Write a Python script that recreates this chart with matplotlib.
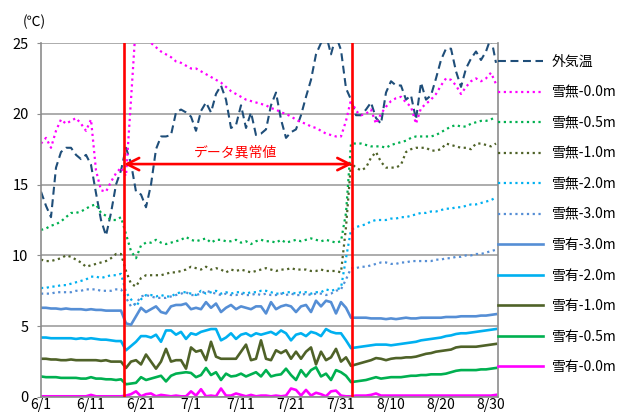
import matplotlib
matplotlib.use("Agg")
import matplotlib.pyplot as plt
import numpy as np

plt.rcParams['font.family'] = ['Noto Sans CJK JP', 'DejaVu Sans']

# Daily observations from 6/1 to 8/31 (day index 0..91)
tick_days = [0, 10, 20, 30, 40, 50, 60, 70, 80, 90]
tick_labels = ["6/1", "6/11", "6/21", "7/1", "7/11", "7/21", "7/31", "8/10", "8/20", "8/30"]

air_temp = [14.5, 13.5, 12.7, 16.2, 17.3, 17.6, 17.6, 17.1, 16.8, 17.1,
            16.4, 14.4, 12.5, 11.4, 13.0, 15.0, 16.0, 17.6, 16.5, 14.5,
            14.3, 13.4, 15.0, 17.5, 18.4, 18.4, 18.5, 20.1, 20.3, 20.1,
            19.8, 18.8, 20.2, 20.8, 20.1, 21.4, 22.0, 21.0, 19.0, 19.2,
            20.6, 19.0, 20.1, 18.5, 18.6, 18.9, 20.6, 21.5, 19.6, 18.3,
            18.7, 18.9, 19.9, 21.2, 22.4, 24.2, 25.0, 25.6, 24.2, 25.5,
            24.5, 21.8, 21.0, 19.9, 19.9, 20.3, 20.8, 19.7, 19.3, 21.5,
            22.3, 22.0, 22.0, 21.0, 21.3, 19.6, 22.2, 21.0, 21.3, 22.5,
            23.8, 24.6, 24.6, 23.0, 21.9, 23.2, 23.9, 24.4, 23.8, 24.4,
            25.4, 23.6]

no_snow_00 = [17.9, 18.3, 17.6, 18.8, 19.6, 19.3, 19.5, 19.7, 19.3, 18.8,
              19.6, 16.0, 14.6, 14.5, 15.2, 15.8, 16.2, 15.6, 21.0, 26.5,
              27.0, 26.0, 25.0, 24.7, 24.4, 24.2, 24.0, 23.7, 23.6, 23.4,
              23.2, 23.2, 23.0, 22.8, 22.6, 22.4, 22.2, 21.9, 21.6, 21.4,
              21.2, 21.0, 20.9, 20.8, 20.7, 20.6, 20.4, 20.3, 20.1, 20.0,
              19.8, 19.6, 19.4, 19.3, 19.1, 19.0, 18.8, 18.6, 18.5, 18.4,
              18.4, 19.5, 21.0, 20.2, 19.9, 20.0, 20.3, 19.3, 20.0, 20.5,
              20.9, 21.1, 21.2, 20.8, 20.5, 19.3, 20.4, 20.7, 21.0, 21.4,
              22.0, 22.5, 22.4, 22.0, 21.4, 21.9, 22.3, 22.5, 22.3, 22.5,
              22.9, 22.1]

no_snow_05 = [11.8, 11.9, 12.1, 12.2, 12.4, 12.7, 13.0, 13.0, 13.1, 13.3,
              13.5, 13.6, 13.0, 12.8, 12.5, 12.5, 12.7, 11.5, 10.3, 9.8,
              10.7, 10.9, 10.9, 11.1, 10.9, 10.8, 10.9, 11.0, 11.1, 11.3,
              11.1, 11.0, 11.1, 11.2, 10.9, 11.1, 11.1, 11.0, 11.0, 11.1,
              10.9, 11.0, 10.8, 11.0, 11.1, 11.0, 11.0, 10.9, 11.1, 10.9,
              11.0, 11.1, 11.0, 11.1, 11.2, 11.1, 11.0, 11.1, 11.0, 10.9,
              11.0, 13.0, 17.9, 17.9, 17.9, 17.8, 17.7, 17.7, 17.7, 17.6,
              17.8, 17.9, 18.0, 18.1, 18.3, 18.4, 18.4, 18.4, 18.4, 18.5,
              18.7, 18.9, 19.1, 19.2, 19.1, 19.1, 19.3, 19.4, 19.5, 19.5,
              19.6, 19.8]

no_snow_10 = [9.7, 9.6, 9.6, 9.7, 9.8, 10.0, 9.9, 9.7, 9.5, 9.2,
              9.3, 9.4, 9.5, 9.6, 9.8, 10.1, 10.1, 8.9, 8.0, 7.8,
              8.4, 8.6, 8.6, 8.6, 8.6, 8.7, 8.8, 8.8, 8.9, 9.0,
              9.2, 9.1, 9.0, 9.2, 9.0, 9.1, 9.0, 8.8, 9.0, 8.9,
              9.0, 8.9, 8.8, 8.9, 9.0, 9.1, 9.0, 8.9, 9.0, 9.0,
              9.1, 9.0, 9.0, 9.0, 8.9, 8.9, 9.0, 8.9, 8.9, 8.9,
              8.8, 12.0, 16.5, 16.2, 16.0, 16.2, 16.9, 17.3, 16.6, 16.2,
              16.2, 16.2, 16.4, 17.3, 17.5, 17.6, 17.6, 17.6, 17.4, 17.4,
              17.5, 17.9, 17.8, 17.7, 17.6, 17.6, 17.5, 17.9, 17.9, 17.8,
              17.7, 17.9]

no_snow_20 = [7.7, 7.7, 7.8, 7.8, 7.9, 7.9, 8.0, 8.1, 8.2, 8.3,
              8.5, 8.5, 8.4, 8.5, 8.6, 8.6, 8.7, 7.4, 6.9, 6.4,
              6.9, 7.2, 7.2, 7.1, 7.2, 7.1, 7.1, 7.3, 7.4, 7.4,
              7.3, 7.2, 7.5, 7.3, 7.4, 7.5, 7.3, 7.4, 7.3, 7.4,
              7.4, 7.3, 7.4, 7.4, 7.5, 7.5, 7.4, 7.3, 7.3, 7.4,
              7.4, 7.3, 7.4, 7.4, 7.3, 7.4, 7.4, 7.6, 7.5, 7.6,
              7.7, 9.8, 11.8, 12.0, 12.1, 12.2, 12.4, 12.5, 12.5, 12.5,
              12.6, 12.6, 12.7, 12.7, 12.8, 12.9, 13.0, 13.0, 13.1, 13.1,
              13.2, 13.3, 13.3, 13.4, 13.4, 13.5, 13.6, 13.6, 13.7, 13.8,
              13.9, 14.1]

no_snow_30 = [7.3, 7.3, 7.3, 7.4, 7.4, 7.4, 7.4, 7.5, 7.5, 7.6,
              7.6, 7.6, 7.5, 7.5, 7.5, 7.6, 7.6, 7.0, 6.4, 6.6,
              7.1, 7.2, 7.1, 7.0, 7.0, 7.0, 7.1, 7.2, 7.3, 7.4,
              7.2, 7.2, 7.3, 7.5, 7.4, 7.3, 7.2, 7.3, 7.2, 7.2,
              7.3, 7.2, 7.2, 7.3, 7.2, 7.3, 7.2, 7.2, 7.3, 7.2,
              7.3, 7.2, 7.2, 7.3, 7.2, 7.3, 7.3, 7.2, 7.3, 7.5,
              7.6, 8.3, 9.1, 9.1, 9.2, 9.2, 9.3, 9.4, 9.5, 9.5,
              9.4, 9.4, 9.5, 9.5, 9.6, 9.6, 9.6, 9.6, 9.6, 9.7,
              9.7, 9.8, 9.8, 9.9, 9.9, 10.0, 10.0, 10.1, 10.1, 10.2,
              10.3, 10.4]

snow_30 = [6.3, 6.3, 6.25, 6.25, 6.2, 6.25, 6.2, 6.2, 6.2, 6.15,
           6.2, 6.15, 6.15, 6.1, 6.1, 6.1, 6.1, 5.2, 5.1, 5.7,
           6.3, 6.0, 6.2, 6.4, 6.0, 5.9, 6.4, 6.5, 6.5, 6.6,
           6.2, 6.3, 6.2, 6.7, 6.3, 6.6, 6.0, 6.3, 6.5, 6.2,
           6.4, 6.3, 6.2, 6.4, 6.4, 5.9, 6.7, 6.2, 6.4, 6.5,
           6.4, 6.0, 6.4, 6.5, 6.0, 6.8, 6.4, 6.8, 6.7, 5.9,
           6.7, 6.3, 5.6, 5.6, 5.6, 5.6, 5.55, 5.55, 5.55, 5.5,
           5.55, 5.5, 5.55, 5.6, 5.55, 5.55, 5.6, 5.6, 5.6, 5.6,
           5.6, 5.65, 5.65, 5.65, 5.7, 5.7, 5.7, 5.7, 5.75, 5.75,
           5.8, 5.85]

snow_20 = [4.2, 4.2, 4.15, 4.15, 4.15, 4.15, 4.15, 4.1, 4.15, 4.1,
           4.15, 4.1, 4.05, 4.05, 4.0, 3.95, 3.95, 3.3, 3.6, 3.9,
           4.3, 4.3, 4.2, 4.4, 3.9, 4.7, 4.7, 4.4, 4.6, 4.1,
           4.5, 4.4, 4.6, 4.7, 4.8, 4.8, 4.0, 4.2, 4.5, 4.1,
           4.4, 4.5, 4.3, 4.5, 4.4, 4.5, 4.6, 4.4, 4.7, 4.5,
           4.0, 4.4, 4.5, 4.3, 4.6, 4.5, 4.3, 4.8, 4.6, 4.5,
           4.5, 4.0, 3.45, 3.5, 3.55, 3.6, 3.65, 3.7, 3.7, 3.7,
           3.65, 3.7, 3.75, 3.8, 3.85, 3.9, 4.0, 4.05, 4.1, 4.15,
           4.2, 4.3, 4.35, 4.45, 4.5, 4.5, 4.55, 4.6, 4.65, 4.7,
           4.75, 4.8]

snow_10 = [2.7, 2.7, 2.65, 2.65, 2.6, 2.6, 2.65, 2.6, 2.6, 2.6,
           2.6, 2.6, 2.55, 2.6, 2.5, 2.5, 2.5, 2.05, 2.5, 2.6,
           2.3, 3.0, 2.5, 2.0, 2.5, 3.4, 2.5, 2.6, 2.6, 2.0,
           3.5, 3.2, 3.3, 2.6, 3.9, 2.85, 2.7, 2.7, 2.7, 2.7,
           3.2, 3.7, 2.6, 2.7, 4.0, 2.7, 2.6, 3.3, 3.1, 3.3,
           2.7, 3.2, 2.7, 3.2, 3.5, 2.3, 3.2, 2.6, 2.8, 3.4,
           2.5, 2.8, 2.2, 2.3, 2.4, 2.5, 2.6, 2.75, 2.7, 2.6,
           2.7, 2.75, 2.75, 2.8, 2.8, 2.85, 2.95, 3.05, 3.1, 3.2,
           3.25, 3.3, 3.35, 3.5, 3.55, 3.55, 3.55, 3.55, 3.6, 3.65,
           3.7, 3.75]

snow_05 = [1.45, 1.4, 1.4, 1.4, 1.35, 1.35, 1.35, 1.35, 1.3, 1.3,
           1.4, 1.3, 1.3, 1.25, 1.25, 1.2, 1.25, 0.9, 0.95, 1.0,
           1.4, 1.2, 1.3, 1.4, 1.5, 1.1, 1.5, 1.65, 1.7, 1.75,
           1.7, 1.4, 1.55, 2.05, 1.55, 1.75, 1.2, 1.65, 1.45, 1.5,
           1.65, 1.45, 1.6, 1.75, 1.45, 1.9, 1.45, 1.55, 1.6, 2.0,
           1.55, 1.2, 1.9, 1.45, 1.9, 2.1, 1.45, 1.65, 1.2, 1.9,
           1.75, 1.5, 1.05, 1.1, 1.15, 1.2, 1.3, 1.4, 1.3, 1.35,
           1.4, 1.4, 1.4, 1.45, 1.5, 1.5, 1.55, 1.55, 1.6, 1.6,
           1.6, 1.65, 1.75, 1.85, 1.9, 1.9, 1.9, 1.9, 1.95, 1.95,
           2.0, 2.05]

snow_00 = [0.05, 0.05, 0.05, 0.05, 0.05, 0.05, 0.05, 0.05, 0.05, 0.05,
           0.15, 0.05, 0.05, 0.05, 0.05, 0.05, 0.05, 0.1, 0.2, 0.4,
           0.05, 0.2, 0.25, 0.05, 0.15, 0.1, 0.05, 0.1, 0.05, 0.05,
           0.4, 0.1, 0.55, 0.05, 0.1, 0.05, 0.6, 0.1, 0.1, 0.25,
           0.15, 0.05, 0.15, 0.05, 0.1, 0.1, 0.05, 0.1, 0.05, 0.1,
           0.6, 0.5, 0.1, 0.5, 0.1, 0.3, 0.2, 0.05, 0.4, 0.45,
           0.1, 0.05, 0.05, 0.1, 0.1, 0.1, 0.15, 0.25, 0.1, 0.1,
           0.1, 0.1, 0.1, 0.1, 0.1, 0.1, 0.1, 0.1, 0.1, 0.1,
           0.1, 0.1, 0.1, 0.1, 0.1, 0.1, 0.1, 0.1, 0.1, 0.1,
           0.1, 0.15]

# anomaly period boundaries (day index)
anomaly_start = 16.6
anomaly_end = 62.3

days = np.arange(len(air_temp))

C_NAVY = "#1F4E79"
C_MAG = "#FF00FF"
C_GREEN = "#00B050"
C_OLIVE = "#4F6228"
C_SKY = "#00B0F0"
C_BLUE = "#558ED5"

dot = (0, (1.0, 1.6))
dash = (0, (3.8, 2.2))

series = [
    ("外気温", air_temp, C_NAVY, dash, 1.5),
    ("雪無-0.0m", no_snow_00, C_MAG, dot, 1.6),
    ("雪無-0.5m", no_snow_05, C_GREEN, dot, 1.6),
    ("雪無-1.0m", no_snow_10, C_OLIVE, dot, 1.6),
    ("雪無-2.0m", no_snow_20, C_SKY, dot, 1.6),
    ("雪無-3.0m", no_snow_30, C_BLUE, dot, 1.6),
    ("雪有-3.0m", snow_30, C_BLUE, "-", 1.9),
    ("雪有-2.0m", snow_20, C_SKY, "-", 1.9),
    ("雪有-1.0m", snow_10, C_OLIVE, "-", 1.9),
    ("雪有-0.5m", snow_05, C_GREEN, "-", 1.9),
    ("雪有-0.0m", snow_00, C_MAG, "-", 1.9),
]

fig = plt.figure(figsize=(6.25, 4.13), dpi=100)
ax = fig.add_axes([41 / 625, 1 - 397 / 413, 457 / 625, 354 / 413])

for label, vals, color, ls, lw in series:
    ax.plot(days, vals, color=color, linestyle=ls, linewidth=lw, label=label)

ax.set_xlim(0, 91.4)
ax.set_ylim(0, 25)
ax.set_yticks([0, 5, 10, 15, 20, 25])
ax.set_xticks(tick_days)
ax.set_xticklabels(tick_labels)
ax.grid(axis="y", color="#A6A6A6", linewidth=1.3, zorder=0)
ax.set_axisbelow(True)
for side in ["left", "right", "bottom", "top"]:
    ax.spines[side].set_color("#8C8C8C")
    ax.spines[side].set_linewidth(1.2)
ax.spines["top"].set_visible(False)
ax.tick_params(axis="y", length=3, color="#8C8C8C", labelsize=10.5, pad=6)
ax.tick_params(axis="x", length=0, labelsize=10, pad=1)

fig.text(34 / 625, 1 - 22 / 413, "(℃)", fontsize=10, ha="center", va="center")

# anomaly period marker
for xv in (anomaly_start, anomaly_end):
    ax.axvline(xv, color="#FF0000", linewidth=1.9, zorder=5)
ax.annotate("", xy=(anomaly_start, 16.45), xytext=(anomaly_end, 16.45),
            arrowprops=dict(arrowstyle="<->", color="#FF0000", lw=1.9,
                            mutation_scale=22, shrinkA=0, shrinkB=0),
            zorder=6)
ax.text(38.9, 17.25, "データ異常値", color="#FF0000", fontsize=10,
        ha="center", va="center", zorder=6)

leg = ax.legend(loc="upper left", bbox_to_anchor=(498 / 625, 1 - 55 / 413),
                bbox_transform=fig.transFigure, frameon=False, fontsize=10,
                handlelength=3.25, handletextpad=0.6, labelspacing=1.19,
                borderpad=0, borderaxespad=0)

fig.savefig("out.png", dpi=100)
